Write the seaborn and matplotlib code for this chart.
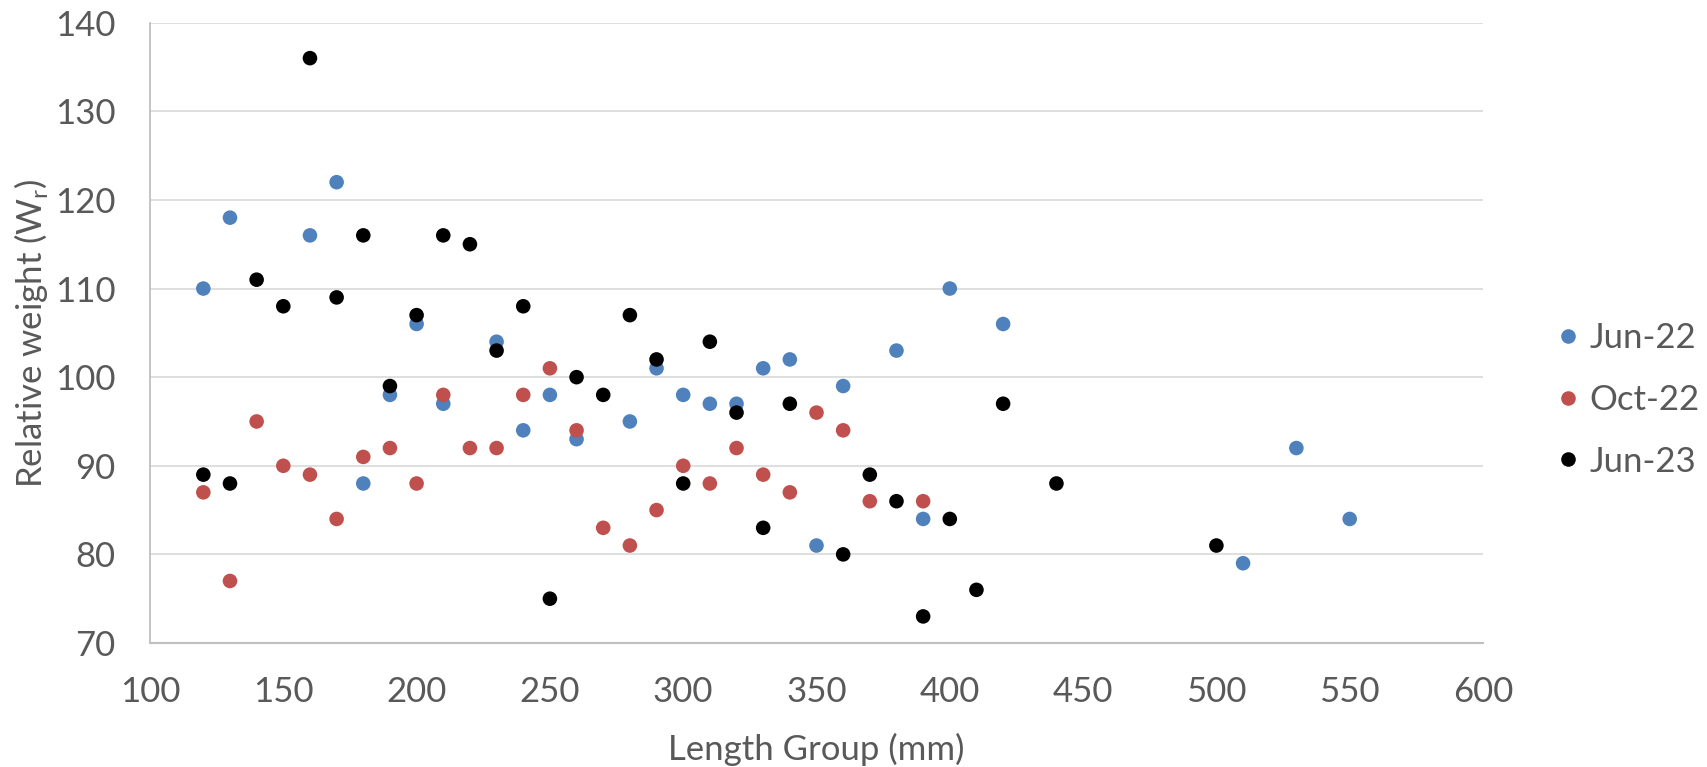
import numpy as np
import pandas as pd
import matplotlib
matplotlib.use("Agg")
import matplotlib.pyplot as plt
import seaborn as sns

# Data: length group (mm) and relative weight Wr
jun22_length = [120, 130, 160, 170, 180, 190, 200, 210, 230, 240, 250, 260, 280, 290,
                300, 310, 320, 330, 340, 350, 360, 380, 390, 400, 420, 510, 530, 550]
jun22_wr = [110, 118, 116, 122, 88, 98, 106, 97, 104, 94, 98, 93, 95, 101,
            98, 97, 97, 101, 102, 81, 99, 103, 84, 110, 106, 79, 92, 84]

oct22_length = [120, 130, 140, 150, 160, 170, 180, 190, 200, 210, 220, 230, 240, 250,
                260, 270, 280, 290, 300, 310, 320, 330, 340, 350, 360, 370, 390]
oct22_wr = [87, 77, 95, 90, 89, 84, 91, 92, 88, 98, 92, 92, 98, 101,
            94, 83, 81, 85, 90, 88, 92, 89, 87, 96, 94, 86, 86]

jun23_length = [120, 130, 140, 150, 160, 170, 180, 190, 200, 210, 220, 230, 240, 250,
                260, 270, 280, 290, 300, 310, 320, 330, 340, 360, 370, 380, 390, 400,
                410, 420, 440, 500]
jun23_wr = [89, 88, 111, 108, 136, 109, 116, 99, 107, 116, 115, 103, 108, 75,
            100, 98, 107, 102, 88, 104, 96, 83, 97, 80, 89, 86, 73, 84,
            76, 97, 88, 81]

series_names = ["Jun-22", "Oct-22", "Jun-23"]
series_colors = ["#4F81BD", "#C0504D", "#000000"]
x_ticks = [100, 150, 200, 250, 300, 350, 400, 450, 500, 550, 600]
y_ticks = [70, 80, 90, 100, 110, 120, 130, 140]

# long-form table for seaborn
df = pd.concat([
    pd.DataFrame({"Length": jun22_length, "Wr": jun22_wr, "Period": "Jun-22"}),
    pd.DataFrame({"Length": oct22_length, "Wr": oct22_wr, "Period": "Oct-22"}),
    pd.DataFrame({"Length": jun23_length, "Wr": jun23_wr, "Period": "Jun-23"}),
], ignore_index=True)

sns.set_style("white")
plt.rcParams["font.family"] = ["Lato", "DejaVu Sans"]
text_grey = "#595959"

fig = plt.figure(figsize=(17.08, 7.67), dpi=100)
ax = fig.add_axes([150 / 1708, 1 - 643 / 767, (1483 - 150) / 1708, (643 - 22.7) / 767])

sns.scatterplot(data=df, x="Length", y="Wr", hue="Period", hue_order=series_names,
                palette=dict(zip(series_names, series_colors)), s=110, linewidth=0,
                ax=ax, zorder=3)

ax.set_xlim(100, 600)
ax.set_ylim(70, 140)
ax.set_xticks(x_ticks)
ax.set_yticks(y_ticks)
ax.tick_params(axis="both", length=0, labelsize=25, labelcolor=text_grey)
ax.tick_params(axis="y", pad=25)
ax.tick_params(axis="x", pad=24)

ax.grid(axis="y", color="#D9D9D9", linewidth=1.2)
ax.set_axisbelow(True)
for side in ["top", "right"]:
    ax.spines[side].set_visible(False)
ax.spines["left"].set_color("#BFBFBF")
ax.spines["bottom"].set_color("#BFBFBF")
ax.spines["left"].set_linewidth(1.3)
ax.spines["bottom"].set_linewidth(1.5)

ax.set_xlabel("Length Group (mm)", fontsize=25, color=text_grey)
ax.set_ylabel("Relative weight (W$_\\mathregular{r}$)", fontsize=25, color=text_grey)
ax.xaxis.set_label_coords(0.5, -0.188)
ax.xaxis.label.set_va("baseline")
ax.yaxis.set_label_coords(-0.081, 0.5)
ax.yaxis.label.set_va("baseline")

handles, labels = ax.get_legend_handles_labels()
ax.legend(handles, labels, loc="center left", bbox_to_anchor=(1558 / 1708, 1 - 400 / 767),
          bbox_transform=fig.transFigure, frameon=False, fontsize=25,
          labelcolor=text_grey, handlelength=0.6, handletextpad=0.3,
          labelspacing=0.85, borderpad=0, borderaxespad=0)

fig.savefig("out.png", dpi=100)
